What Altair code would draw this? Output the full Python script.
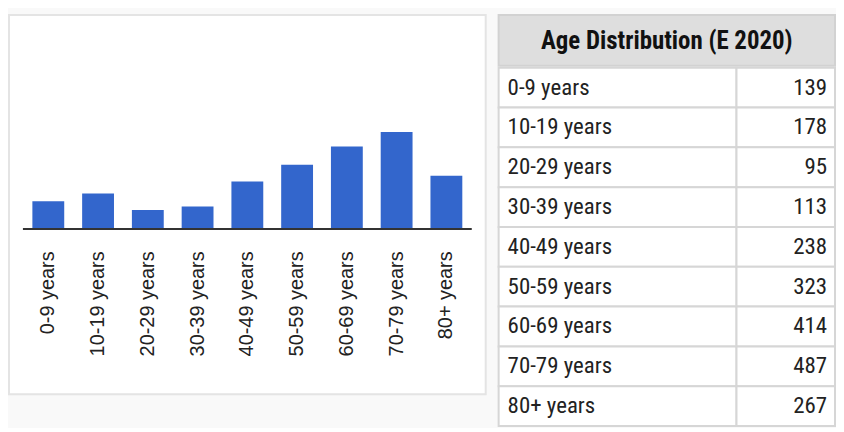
import altair as alt
import pandas as pd

AGES = ["0-9 years", "10-19 years", "20-29 years", "30-39 years", "40-49 years",
        "50-59 years", "60-69 years", "70-79 years", "80+ years"]
COUNTS = [139, 178, 95, 113, 238, 323, 414, 487, 267]
TABLE_TITLE = "Age Distribution (E 2020)"

df = pd.DataFrame({"age": AGES, "count": COUNTS})
df["count_label"] = df["count"].astype(str)

BLUE = "#3366cc"
TABLE_FONT = "Roboto Condensed, Roboto"

bars = alt.Chart(df).mark_bar(color=BLUE).encode(
    x=alt.X("age:N", sort=AGES, title=None,
            scale=alt.Scale(paddingInner=0.36, paddingOuter=0.47),
            axis=alt.Axis(orient="bottom", offset=-166, labelAngle=270,
                          labelFont="Liberation Sans", labelFontSize=20,
                          labelColor="#222222", labelPadding=22,
                          ticks=False, tickSize=0, domain=False,
                          grid=False, labelOverlap=False)),
    y=alt.Y("count:Q", scale=alt.Scale(domain=[-830, 1075], nice=False, zero=False),
            axis=None),
)

baseline = alt.Chart(pd.DataFrame({"v": [0]})).mark_rule(
    color="#333333", strokeWidth=2
).encode(y=alt.Y("v:Q"), x=alt.value(14), x2=alt.value(465))

left = alt.layer(bars, baseline).properties(
    width=479, height=381,
    view=alt.ViewBackground(fill="white", stroke="#e4e4e4", strokeWidth=2),
)

header = alt.Chart(pd.DataFrame({"t": [TABLE_TITLE]})).mark_text(
    font=TABLE_FONT, fontSize=25, fontWeight="bold", color="#111111",
    align="center", baseline="middle"
).encode(text="t:N", x=alt.value(169), y=alt.value(26)).properties(
    width=338, height=51,
    view=alt.ViewBackground(fill="#dedede", stroke="#d2d2d2", strokeWidth=2),
)

yenc = alt.Y("age:N", sort=AGES, axis=None,
             scale=alt.Scale(paddingInner=0, paddingOuter=0))

cell_left = alt.Chart(df).mark_rect(fill="white", stroke="#d6d6d6", strokeWidth=2).encode(
    y=yenc, x=alt.value(0), x2=alt.value(239))
cell_right = alt.Chart(df).mark_rect(fill="white", stroke="#d6d6d6", strokeWidth=2).encode(
    y=yenc, x=alt.value(239), x2=alt.value(338))
txt_left = alt.Chart(df).mark_text(font=TABLE_FONT, fontSize=23, color="#222222",
                                   align="left", baseline="middle").encode(
    y=yenc, x=alt.value(9), text="age:N")
txt_right = alt.Chart(df).mark_text(font=TABLE_FONT, fontSize=23, color="#222222",
                                    align="right", baseline="middle").encode(
    y=yenc, x=alt.value(330), text="count_label:N")

body = alt.layer(cell_left, cell_right, txt_left, txt_right).properties(
    width=338, height=360,
    view=alt.ViewBackground(fill="white", strokeOpacity=0),
)

right = alt.vconcat(header, body, spacing=0)

chart = alt.hconcat(left, right, spacing=11).properties(
    padding={"left": 0, "top": 5, "right": 0, "bottom": 0},
).configure(background="#f9f9f9")

chart.save("out.html", embed_options={"renderer": "svg", "actions": False})
